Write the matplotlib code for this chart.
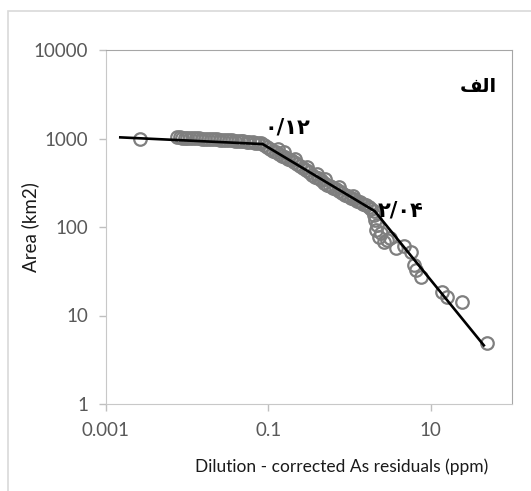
import matplotlib
matplotlib.use('Agg')
import matplotlib.pyplot as plt
from matplotlib.patches import Rectangle

# concentration-area points
conc = [0.0026, 0.0075, 0.0081, 0.0087, 0.0093, 0.0100, 0.0107, 0.0117, 0.0127,
        0.0139, 0.0151, 0.0165, 0.0179, 0.0195, 0.0211, 0.0230, 0.0251, 0.0273,
        0.0297, 0.0324, 0.0352, 0.0384, 0.0417, 0.0455, 0.0493, 0.0538, 0.0585,
        0.0640, 0.0692, 0.075, 0.082, 0.089, 0.097, 0.106, 0.115, 0.125, 0.136,
        0.149, 0.162, 0.176, 0.191, 0.208, 0.227, 0.247, 0.269, 0.293, 0.318,
        0.346, 0.377, 0.411, 0.447, 0.487, 0.530, 0.578, 0.628, 0.684, 0.743,
        0.81, 0.881, 0.96, 1.04, 1.14, 1.24, 1.35, 1.47, 1.60, 1.73, 1.86,
        2.0, 2.0, 2.05, 2.11, 2.17, 2.30, 2.44, 2.65, 2.88, 3.14, 3.72, 4.67,
        5.68, 6.18, 6.55, 7.54, 13.6, 15.7, 24.0, 48.6,
        0.13, 0.155, 0.21, 0.30, 0.40, 0.50, 0.75, 1.1]
area = [1000, 1030, 1030, 1025, 1025, 1020, 1015, 1015, 1010,
        1005, 1000, 995, 990, 985, 980, 975, 970, 965,
        960, 955, 950, 945, 940, 935, 925, 920, 915,
        905, 900, 890, 880, 850, 810, 770, 730, 700, 670,
        640, 610, 590, 570, 540, 510, 485, 460, 435, 415,
        390, 370, 355, 340, 318, 300, 288, 278, 266, 255,
        240, 230, 222, 215, 205, 196, 190, 182, 175, 168, 160,
        150, 135, 120, 92.5, 105, 77, 85.5, 67.7, 71.3, 75, 57.9, 61,
        52.2, 37.2, 32.7, 27.2, 18.4, 16.2, 14.2, 4.89,
        760, 700, 580, 480, 400, 350, 280, 225]

# fitted segments
fit_x = [0.0015, 0.085, 2.04, 45]
fit_y = [1030, 865, 151, 4.6]

xticks = [0.001, 0.1, 10]
xtick_labels = ['0.001', '0.1', '10']
yticks = [1, 10, 100, 1000, 10000]
ytick_labels = ['1', '10', '100', '1000', '10000']

W, H = 531, 491
fig = plt.figure(figsize=(W / 100, H / 100), dpi=100)
fig.patches.append(Rectangle((8 / W, -0.1), 1.2, (H - 11) / H + 0.1,
                             transform=fig.transFigure, fill=False,
                             edgecolor='#d9d9d9', linewidth=1.2))

ax = fig.add_axes([106 / W, (H - 404) / H, (512 - 106) / W, (404 - 50) / H])
ax.set_xscale('log')
ax.set_yscale('log')
ax.set_xlim(0.001, 100)
ax.set_ylim(1, 10000)

ax.plot(conc, area, linestyle='none', marker='o', markersize=9,
        markerfacecolor='none', markeredgecolor='#7f7f7f', markeredgewidth=1.6)
ax.plot(fit_x, fit_y, color='black', linewidth=1.9)

ax.set_xticks(xticks)
ax.set_xticklabels(xtick_labels)
ax.set_yticks(yticks)
ax.set_yticklabels(ytick_labels)
ax.minorticks_off()
ax.tick_params(axis='both', direction='out', length=5, width=1, color='#bfbfbf',
               labelsize=13.5, labelcolor='#595959', pad=8)
for lab in ax.get_xticklabels() + ax.get_yticklabels():
    lab.set_family('Lato')

ax.spines['left'].set_color('#c8c8c8')
ax.spines['bottom'].set_color('#c8c8c8')
ax.spines['top'].set_color('#a6a6a6')
ax.spines['right'].set_color('#a6a6a6')

fig.text(30 / W, 1 - 227 / H, 'Area (km2)', rotation=90, ha='center', va='center',
         fontsize=13.5, family='Lato', color='#1a1a1a')
fig.text(342 / W, 1 - 467 / H, 'Dilution - corrected As residuals (ppm)',
         ha='center', va='center', fontsize=12.5, family='Lato', color='#1a1a1a')

# Persian annotations (visual order, presentation forms)
fig.text(287 / W, 1 - 128 / H, '\u06f0/\u06f1\u06f2', ha='center', va='center',
         fontsize=15, fontweight='bold', family='DejaVu Sans', color='black')
fig.text(401 / W, 1 - 211 / H, '\u06f2/\u06f0\u06f4', ha='center', va='center',
         fontsize=15, fontweight='bold', family='DejaVu Sans', color='black')
fig.text(478 / W, 1 - 86 / H, '\ufed2\ufedf\ufe8d', ha='center', va='center',
         fontsize=14, fontweight='bold', family='DejaVu Sans', color='black')

fig.savefig('out.png', dpi=100)
